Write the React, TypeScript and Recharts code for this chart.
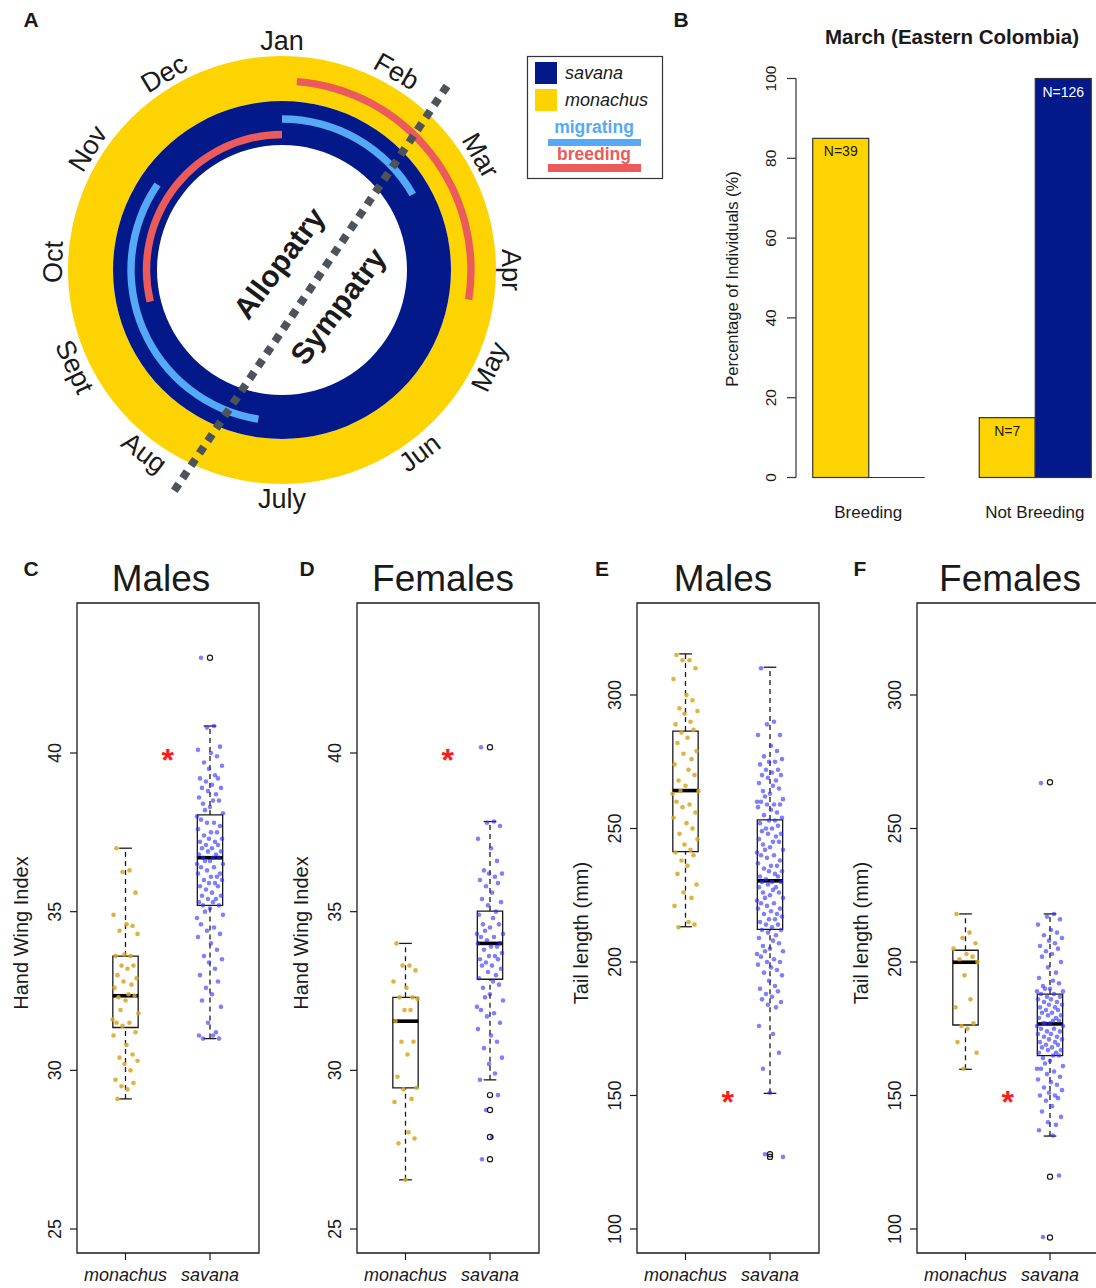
import React from 'react';
import {
  PieChart,
  Pie,
  Cell,
  BarChart,
  Bar,
  XAxis,
  YAxis,
  LabelList,
  ScatterChart,
  Scatter,
  ReferenceArea,
  ReferenceLine,
} from 'recharts';

const FONT = '"Liberation Sans", Arial, Helvetica, sans-serif';
const INK = '#1a1a1a';
const YELLOW = '#FDD402';
const NAVY = '#03198A';
const SKY = '#55A9F6';
const CORAL = '#EB5B5B';
const GOLD = '#DAA520';
const BLUE = '#2B2BFF';

// ---- A: annual cycle, spans in months counted clockwise from 1 Jan ----
const MONTHS = ['Jan', 'Feb', 'Mar', 'Apr', 'May', 'Jun', 'July', 'Aug', 'Sept', 'Oct', 'Nov', 'Dec'];
const monachusBreeding = [0.15, 3.3];
const savanaMigratingNorth = [0, 2.0];
const savanaMigratingSouth = [6.3, 10.15];
const savanaBreeding = [8.55, 12];

// ---- B: March, eastern Colombia ----
const breedGroups = ['Breeding', 'Not Breeding'];
const monachusPct = [85, 15];
const savanaPct = [0, 100];
const monachusN = ['N=39', 'N=7'];
const savanaN = ['', 'N=126'];

// ---- C: hand wing index, males ----
const hwiMaleMon = [37.0, 36.3, 36.25, 35.6, 34.9, 34.6, 34.55, 34.4, 34.3, 33.65, 33.6, 33.6, 33.3, 33.3, 33.2, 33.0,
  32.9, 32.8, 32.7, 32.6, 32.4, 32.35, 32.3, 32.2, 31.9, 31.8, 31.6, 31.5, 31.5, 31.4, 31.2, 31.1, 30.8, 30.5, 30.4,
  30.3, 30.2, 30.0, 29.7, 29.6, 29.5, 29.4, 29.1];
const hwiMaleSav = [43.0, 40.85, 40.8, 40.2, 40.1, 40.0, 39.9, 39.7, 39.6, 39.5, 39.3, 39.2, 39.2, 39.1, 39.0, 38.9,
  38.9, 38.8, 38.7, 38.6, 38.5, 38.5, 38.4, 38.3, 38.2, 38.1, 38.0, 37.9, 37.8, 37.8, 37.7, 37.6, 37.5, 37.5, 37.4,
  37.3, 37.3, 37.2, 37.2, 37.1, 37.1, 37.0, 37.0, 36.9, 36.9, 36.8, 36.8, 36.7, 36.7, 36.7, 36.6, 36.6, 36.5, 36.5,
  36.4, 36.4, 36.3, 36.2, 36.2, 36.1, 36.1, 36.0, 36.0, 35.9, 35.9, 35.8, 35.8, 35.7, 35.6, 35.5, 35.5, 35.4, 35.4,
  35.3, 35.3, 35.2, 35.2, 35.1, 35.0, 34.9, 34.8, 34.6, 34.5, 34.4, 34.3, 34.2, 34.0, 33.8, 33.6, 33.5, 33.4, 33.2,
  33.0, 32.8, 32.6, 32.4, 32.2, 32.0, 31.5, 31.2, 31.1, 31.1, 31.0, 31.0];
const hwiMaleMonBox = [29.1, 31.35, 32.35, 33.6, 37.0];
const hwiMaleSavBox = [31.0, 35.2, 36.7, 38.05, 40.85];
const hwiMaleSavOut = [43.0];

// ---- D: hand wing index, females ----
const hwiFemMon = [34.0, 33.3, 33.3, 33.15, 32.8, 32.6, 32.3, 32.3, 32.25, 31.9, 31.9, 31.55, 30.9, 30.9, 30.5, 29.8,
  29.45, 29.4, 29.1, 29.0, 28.05, 27.85, 27.7, 26.55];
const hwiFemSav = [40.18, 37.84, 37.8, 37.7, 37.3, 37.0, 36.6, 36.3, 36.2, 36.2, 36.1, 36.0, 35.9, 35.8, 35.6, 35.4,
  35.3, 35.2, 35.0, 34.9, 34.8, 34.6, 34.6, 34.5, 34.4, 34.3, 34.3, 34.2, 34.2, 34.1, 34.0, 34.0, 33.9, 33.9, 33.8,
  33.7, 33.6, 33.6, 33.5, 33.5, 33.4, 33.3, 33.3, 33.2, 33.1, 33.0, 32.9, 32.8, 32.7, 32.6, 32.4, 32.3, 32.2, 32.0,
  31.9, 31.8, 31.7, 31.5, 31.3, 31.1, 30.9, 30.7, 30.4, 30.2, 29.9, 29.7, 29.22, 28.75, 27.9, 27.2];
const hwiFemMonBox = [26.55, 29.45, 31.55, 32.3, 34.0];
const hwiFemSavBox = [29.7, 32.87, 34.0, 35.02, 37.84];
const hwiFemSavOut = [40.18, 29.22, 28.75, 27.9, 27.2];

// ---- E: tail length, males ----
const tailMaleMon = [315, 313, 313, 310, 306, 300, 298, 295, 294, 293, 290, 289, 287, 286, 284, 282, 279, 278, 276,
  274, 272, 270, 268, 266, 264, 264, 263, 260, 259, 258, 256, 254, 252, 250, 248, 246, 244, 242, 241, 240, 238, 236,
  233, 229, 226, 224, 221, 215, 214, 213];
const tailMaleSav = [310, 290, 289, 285, 285, 281, 279, 277, 276, 275, 275, 274, 272, 272, 271, 270, 270, 269, 268,
  267, 266, 265, 264, 263, 262, 261, 260, 260, 259, 259, 259, 258, 257, 256, 255, 254, 253, 253, 252, 251, 250, 250,
  249, 248, 248, 247, 246, 245, 245, 244, 243, 242, 242, 241, 240, 240, 239, 238, 237, 236, 236, 235, 234, 234, 233,
  232, 232, 231, 230, 230, 230, 229, 228, 228, 227, 226, 226, 225, 224, 224, 223, 222, 222, 221, 220, 220, 219, 218,
  218, 217, 216, 216, 215, 214, 214, 213, 212, 212, 211, 210, 209, 208, 207, 206, 205, 204, 204, 203, 202, 201, 200,
  200, 199, 198, 197, 196, 195, 193, 191, 190, 189, 188, 187, 186, 185, 184, 183, 176, 173, 166, 160, 151, 128, 127];
const tailMaleMonBox = [213.2, 241.3, 264.2, 286.5, 315.4];
const tailMaleSavBox = [150.8, 212.2, 230.4, 253.2, 310.4];
const tailMaleSavOut = [128, 127];

// ---- F: tail length, females ----
const tailFemMon = [218, 211, 209, 207, 205, 203, 202, 201, 200, 195, 186, 183, 177, 176, 175, 170, 166, 160];
const tailFemSav = [267, 218, 217, 216, 214, 212, 211, 210, 209, 208, 207, 206, 205, 204, 203, 202, 200, 198, 196,
  194, 193, 192, 191, 190, 190, 189, 189, 188, 188, 187, 187, 186, 186, 185, 185, 184, 184, 183, 183, 182, 182, 181,
  181, 180, 180, 179, 179, 178, 178, 177, 177, 177, 176, 176, 175, 175, 174, 174, 173, 173, 172, 172, 171, 171, 170,
  170, 169, 169, 168, 168, 167, 167, 166, 166, 165, 165, 164, 163, 162, 161, 160, 160, 159, 158, 157, 156, 155, 154,
  153, 152, 151, 150, 150, 149, 148, 146, 144, 142, 140, 139, 137, 135, 120, 97];
const tailFemMonBox = [159.8, 176.4, 199.9, 204.4, 218.0];
const tailFemSavBox = [134.8, 164.9, 176.8, 188.0, 218.0];
const tailFemSavOut = [267.3, 119.6, 96.8];

// horizontal spread of the strip points, in px (cycled)
const JITTER = [-9, 4, -3, 10, -12, 1, 7, -6, 12, -1, 5, -10, 8, -4, 2, -8, 11, -2, 6, -11, 3, 9, -7, 0, -5, 13, -13];
// small angular nudges (deg) for the month labels, as placed in the original
const MONTH_NUDGE = [0, 0, 0, 0, -5, -7, 0, 7, 5, 2, 2, -1];

function Txt({ x, y, size, rot = 0, bold = false, italic = false, color = INK, children }: any) {
  return (
    <div
      style={{
        position: 'absolute',
        left: x,
        top: y,
        transform: `translate(-50%, -50%) rotate(${rot}deg)`,
        fontSize: size,
        fontWeight: bold ? 700 : 400,
        fontStyle: italic ? 'italic' : 'normal',
        color,
        whiteSpace: 'nowrap',
        lineHeight: 1,
        fontFamily: FONT,
      }}
    >
      {children}
    </div>
  );
}

// ---------------- Panel A ----------------
const spanData = (s: number[]) => [
  { v: s[0], on: 0 },
  { v: s[1] - s[0], on: 1 },
  { v: 12 - s[1], on: 0 },
];

const monthLabel = (p: any) => {
  const idx = MONTHS.indexOf(p.name);
  const a = p.midAngle - (MONTH_NUDGE[idx] || 0);
  const rad = (a * Math.PI) / 180;
  const x = p.cx + 229 * Math.cos(rad);
  const y = p.cy - 229 * Math.sin(rad);
  const t0 = Math.round((((90 - p.midAngle) % 360) + 360) % 360);
  const rot0 = t0 <= 90 ? t0 : t0 < 270 ? t0 - 180 : t0 - 360;
  const rot = rot0 + (MONTH_NUDGE[idx] || 0);
  return (
    <text
      key={p.name}
      x={x}
      y={y}
      transform={`rotate(${rot} ${x} ${y})`}
      textAnchor="middle"
      dominantBaseline="central"
      fontSize={27}
      fontFamily={FONT}
      fill={INK}
    >
      {p.name}
    </text>
  );
};

function ArcPie({ span, r, color }: { span: number[]; r: number; color: string }) {
  return (
    <Pie
      data={spanData(span)}
      dataKey="v"
      cx={282}
      cy={270}
      innerRadius={r - 3.7}
      outerRadius={r + 3.7}
      startAngle={90}
      endAngle={-270}
      stroke="none"
      isAnimationActive={false}
    >
      {spanData(span).map((d, i) => (
        <Cell key={i} fill={d.on ? color : 'none'} />
      ))}
    </Pie>
  );
}

function PanelA() {
  return (
    <div style={{ position: 'absolute', left: 0, top: 0, width: 680, height: 530 }}>
      <PieChart width={560} height={530} margin={{ top: 0, right: 0, bottom: 0, left: 0 }}>
        <Pie data={[{ v: 1 }]} dataKey="v" cx={282} cy={270} innerRadius={169} outerRadius={214}
          startAngle={90} endAngle={-270} fill={YELLOW} stroke="none" isAnimationActive={false} />
        <Pie data={[{ v: 1 }]} dataKey="v" cx={282} cy={270} innerRadius={125} outerRadius={169}
          startAngle={90} endAngle={-270} fill={NAVY} stroke="none" isAnimationActive={false} />
        {ArcPie({ span: monachusBreeding, r: 189, color: CORAL })}
        {ArcPie({ span: savanaMigratingNorth, r: 151, color: SKY })}
        {ArcPie({ span: savanaMigratingSouth, r: 151, color: SKY })}
        {ArcPie({ span: savanaBreeding, r: 135.5, color: CORAL })}
        <Pie
          data={MONTHS.map((m) => ({ name: m, v: 1 }))}
          dataKey="v"
          nameKey="name"
          cx={282}
          cy={270}
          innerRadius={0}
          outerRadius={214}
          startAngle={105}
          endAngle={-255}
          fill="none"
          stroke="none"
          label={monthLabel}
          labelLine={false}
          isAnimationActive={false}
        />
      </PieChart>
      <svg width={680} height={530} style={{ position: 'absolute', left: 0, top: 0 }}>
        <line x1={447} y1={86} x2={172} y2={494} stroke="#4E535A" strokeWidth={8} strokeDasharray="8 7" />
        <text x={279} y={263} transform="rotate(-53 279 263)" textAnchor="middle" dominantBaseline="central"
          fontSize={30} fontWeight={700} fontFamily={FONT} fill={INK}>Allopatry</text>
        <text x={338} y={306} transform="rotate(-53 338 306)" textAnchor="middle" dominantBaseline="central"
          fontSize={30} fontWeight={700} fontFamily={FONT} fill={INK}>Sympatry</text>
        <rect x={527.5} y={56.5} width={135} height={122} fill="#fff" stroke="#333" strokeWidth={1.2} />
        <rect x={535} y={62} width={22} height={22} fill={NAVY} />
        <rect x={535} y={89} width={22} height={22} fill={YELLOW} />
        <text x={565} y={79} fontSize={18} fontStyle="italic" fontFamily={FONT} fill={INK}>savana</text>
        <text x={565} y={106} fontSize={18} fontStyle="italic" fontFamily={FONT} fill={INK}>monachus</text>
        <text x={594} y={133} textAnchor="middle" fontSize={17.5} fontWeight={700} fontFamily={FONT} fill={SKY}>migrating</text>
        <rect x={548} y={139} width={93} height={7} fill={SKY} />
        <text x={594} y={160} textAnchor="middle" fontSize={17.5} fontWeight={700} fontFamily={FONT} fill={CORAL}>breeding</text>
        <rect x={548} y={164} width={93} height={8} fill={CORAL} />
      </svg>
      <Txt x={31} y={19} size={21} bold>A</Txt>
    </div>
  );
}

// ---------------- Panel B ----------------
const barData = breedGroups.map((g, i) => ({
  group: g,
  mon: monachusPct[i],
  sav: savanaPct[i],
  monN: monachusN[i],
  savN: savanaN[i],
}));

const barShape = (p: any) => {
  if (!p.height) {
    return <line x1={p.x} x2={p.x + p.width} y1={p.y} y2={p.y} stroke="#333" strokeWidth={1.2} />;
  }
  return <rect x={p.x} y={p.y} width={p.width} height={p.height} fill={p.fill} stroke="#333" strokeWidth={1.2} />;
};

const nLabel = (color: string) => (p: any) =>
  p.value ? (
    <text x={p.x + p.width / 2} y={p.y + 18} textAnchor="middle" fontSize={14} fontFamily={FONT} fill={color}>
      {p.value}
    </text>
  ) : null;

const rotTick = (size: number, shift: number) => (p: any) => (
  <text
    x={p.x - shift}
    y={p.y}
    transform={`rotate(-90 ${p.x - shift} ${p.y})`}
    textAnchor="middle"
    fontSize={size}
    fontFamily={FONT}
    fill={INK}
  >
    {p.payload.value}
  </text>
);

const groupTick = (p: any) => (
  <text x={p.x} y={p.y + 40} textAnchor="middle" fontSize={17} fontFamily={FONT} fill={INK}>
    {p.payload.value}
  </text>
);

function PanelB() {
  return (
    <div style={{ position: 'absolute', left: 700, top: 0, width: 396, height: 530 }}>
      <BarChart width={396} height={530} data={barData} margin={{ top: 78.5, right: 0, bottom: 0, left: 0 }}
        barGap={0} barCategoryGap={27.75}>
        <XAxis dataKey="group" height={52.5} axisLine={false} tickLine={false} tickSize={0} tickMargin={0}
          padding={{ left: -11, right: -22 }} tick={groupTick} interval={0} />
        <YAxis type="number" domain={[0, 100]} ticks={[0, 20, 40, 60, 80, 100]} width={96} tickSize={9}
          axisLine={{ stroke: '#333', strokeWidth: 1.2 }} tickLine={{ stroke: '#333', strokeWidth: 1.2 }}
          tick={rotTick(15.5, 9)} />
        <Bar dataKey="mon" fill={YELLOW} shape={barShape} isAnimationActive={false}>
          <LabelList dataKey="monN" content={nLabel(INK)} />
        </Bar>
        <Bar dataKey="sav" fill={NAVY} shape={barShape} isAnimationActive={false}>
          <LabelList dataKey="savN" content={nLabel('#fff')} />
        </Bar>
      </BarChart>
      <Txt x={252} y={37} size={20.5} bold>March (Eastern Colombia)</Txt>
      <Txt x={32} y={279} size={16.5} rot={-90}>Percentage of Individuals (%)</Txt>
      <Txt x={-19} y={19} size={21} bold>B</Txt>
    </div>
  );
}

// ---------------- Panels C–F ----------------
const XDOM = [0.426, 2.58];
const BOX_HALF = 0.15;
const CAP_HALF = 0.075;

const boxElems = (pos: number, s: number[], k: string) => [
  <ReferenceLine key={k + 'wu'} segment={[{ x: pos, y: s[3] }, { x: pos, y: s[4] }]} stroke={INK} strokeWidth={1.3} strokeDasharray="5 4" />,
  <ReferenceLine key={k + 'wl'} segment={[{ x: pos, y: s[0] }, { x: pos, y: s[1] }]} stroke={INK} strokeWidth={1.3} strokeDasharray="5 4" />,
  <ReferenceLine key={k + 'cu'} segment={[{ x: pos - CAP_HALF, y: s[4] }, { x: pos + CAP_HALF, y: s[4] }]} stroke={INK} strokeWidth={1.3} />,
  <ReferenceLine key={k + 'cl'} segment={[{ x: pos - CAP_HALF, y: s[0] }, { x: pos + CAP_HALF, y: s[0] }]} stroke={INK} strokeWidth={1.3} />,
  <ReferenceArea key={k + 'b'} x1={pos - BOX_HALF} x2={pos + BOX_HALF} y1={s[1]} y2={s[3]} fill="none" fillOpacity={0} stroke={INK} strokeWidth={1.3} />,
  <ReferenceLine key={k + 'm'} segment={[{ x: pos - BOX_HALF, y: s[2] }, { x: pos + BOX_HALF, y: s[2] }]} stroke="#000" strokeWidth={3.6} />,
];

const pts = (vals: number[], pos: number) => vals.map((y, i) => ({ x: pos, y, i }));

const jitterDot = (color: string, op: number) => (p: any) => (
  <circle cx={p.cx + JITTER[p.payload.i % JITTER.length]} cy={p.cy} r={2.3} fill={color} fillOpacity={op} />
);
const outlierDot = (p: any) => <circle cx={p.cx} cy={p.cy} r={2.6} fill="none" stroke={INK} strokeWidth={1.2} />;
const starDot = (p: any) => (
  <text x={p.cx} y={p.cy + 18} textAnchor="middle" fontSize={32} fontWeight={700} fontFamily={FONT} fill="#FF1A1A">*</text>
);

const speciesTick = (p: any) => (
  <text x={p.x} y={p.y + 19} textAnchor="middle" fontSize={18} fontStyle="italic" fontFamily={FONT} fill={INK}>
    {p.payload.value === 1 ? 'monachus' : 'savana'}
  </text>
);

function BoxPanel(props: any) {
  const { left, letter, letterX, title, titleX, yLabel, yDomain, yTicks, star, mon, sav, monBox, savBox, savOut } = props;
  return (
    <>
      <div style={{ position: 'absolute', left, top: 560, width: 280, height: 728 }}>
        <ScatterChart width={280} height={728} margin={{ top: 43, right: 21, bottom: 0, left: 0 }}>
          <XAxis type="number" dataKey="x" domain={XDOM} ticks={[1, 2]} allowDataOverflow height={35}
            axisLine={false} tickSize={7} tickLine={{ stroke: INK, strokeWidth: 1.2 }} tick={speciesTick} />
          <YAxis type="number" dataKey="y" domain={yDomain} ticks={yTicks} allowDataOverflow width={77}
            axisLine={false} tickSize={7} tickLine={{ stroke: INK, strokeWidth: 1.2 }} tick={rotTick(18, 7)} />
          <ReferenceArea x1={XDOM[0]} x2={XDOM[1]} y1={yDomain[0]} y2={yDomain[1]} fill="none" fillOpacity={0}
            stroke={INK} strokeWidth={1.3} ifOverflow="visible" />
          {boxElems(1, monBox, 'mon')}
          {boxElems(2, savBox, 'sav')}
          <Scatter data={pts(mon, 1)} shape={jitterDot(GOLD, 0.85)} isAnimationActive={false} />
          <Scatter data={pts(sav, 2)} shape={jitterDot(BLUE, 0.6)} isAnimationActive={false} />
          <Scatter data={savOut.map((y: number) => ({ x: 2, y }))} shape={outlierDot} isAnimationActive={false} />
          <Scatter data={[{ x: 1.5, y: star }]} shape={starDot} isAnimationActive={false} />
        </ScatterChart>
      </div>
      <Txt x={titleX} y={578} size={37}>{title}</Txt>
      <Txt x={letterX} y={568} size={21} bold>{letter}</Txt>
      <Txt x={left + 21} y={933} size={20} rot={-90}>{yLabel}</Txt>
    </>
  );
}

export default function App() {
  const hwiDom = [24.244, 44.727];
  const tailDom = [91.0, 334.46];
  return (
    <div
      style={{
        position: 'absolute',
        left: 0,
        top: 0,
        width: 1096,
        height: 1288,
        overflow: 'hidden',
        background: '#fff',
        fontFamily: FONT,
      }}
    >
      <PanelA />
      <PanelB />
      <BoxPanel left={0} letter="C" letterX={31} title="Males" titleX={161} yLabel="Hand Wing Index"
        yDomain={hwiDom} yTicks={[25, 30, 35, 40]} star={40} mon={hwiMaleMon} sav={hwiMaleSav}
        monBox={hwiMaleMonBox} savBox={hwiMaleSavBox} savOut={hwiMaleSavOut} />
      <BoxPanel left={280} letter="D" letterX={307} title="Females" titleX={443} yLabel="Hand Wing Index"
        yDomain={hwiDom} yTicks={[25, 30, 35, 40]} star={40} mon={hwiFemMon} sav={hwiFemSav}
        monBox={hwiFemMonBox} savBox={hwiFemSavBox} savOut={hwiFemSavOut} />
      <BoxPanel left={560} letter="E" letterX={602} title="Males" titleX={723} yLabel="Tail length (mm)"
        yDomain={tailDom} yTicks={[100, 150, 200, 250, 300]} star={150} mon={tailMaleMon} sav={tailMaleSav}
        monBox={tailMaleMonBox} savBox={tailMaleSavBox} savOut={tailMaleSavOut} />
      <BoxPanel left={840} letter="F" letterX={860} title="Females" titleX={1010} yLabel="Tail length (mm)"
        yDomain={tailDom} yTicks={[100, 150, 200, 250, 300]} star={150} mon={tailFemMon} sav={tailFemSav}
        monBox={tailFemMonBox} savBox={tailFemSavBox} savOut={tailFemSavOut} />
    </div>
  );
}
